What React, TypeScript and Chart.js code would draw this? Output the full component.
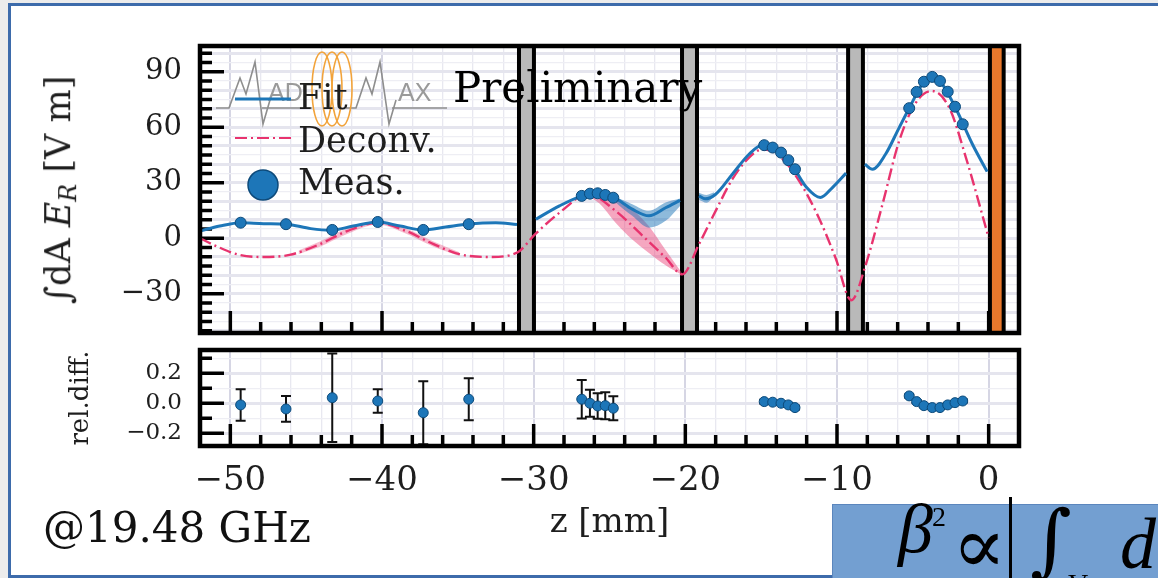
import React, { useEffect, useRef } from "react";
import { Chart, registerables } from "chart.js";

Chart.register(...registerables);

// ---------- axis ranges & tick labels ----------
const X_MIN = -52;
const X_MAX = 2;
const TOP_Y_MIN = -51.2;
const TOP_Y_MAX = 103.9;
const BOT_Y_MIN = -0.285;
const BOT_Y_MAX = 0.355;

const xTickLabels = [-50, -40, -30, -20, -10, 0];
const topYTickLabels = [-30, 0, 30, 60, 90];
const botYTickLabels = [-0.2, 0, 0.2];

// ---------- Fit (blue), segments separated by discs ----------
const fitZ = [-52, -50.7, -49.3, -47.8, -46.3, -44.7, -43.4, -41.9, -40.3, -38.8, -37.3, -35.8, -34.3, -32.5, -31.1, -30.5,
  -29.85, -28.3, -26.8, -25.8, -24.7, -23.5, -22.4, -21.3, -20.35, -19.7,
  -19.1, -18.7, -18.0, -16.9, -15.8, -14.9, -13.7, -12.8, -12.0, -11.1, -10.3, -9.4, -8.8,
  -8.16, -7.66, -6.8, -5.9, -5.24, -4.27, -3.72, -3.21, -2.22, -1.07, -0.1];
const fitE = [3.9, 6.6, 8.4, 7.9, 7.6, 5.2, 4.3, 6.6, 8.8, 6.6, 4.5, 6.1, 7.7, 8.4, 7.4, null,
  10.3, 17.5, 22.9, 24.3, 21.9, 15.7, 12.1, 16.5, 20.5, null,
  22.9, 21.3, 23.8, 34.6, 45.4, 50.4, 46.3, 37.3, 27.4, 22.0, 27.4, 35.2, null,
  40.0, 37.3, 45.4, 59.8, 70.3, 84.6, 87.3, 85.0, 71.1, 50.8, 36.0];

// Fit uncertainty bands
const fitBandZ = [-25.0, -24.6, -23.5, -22.4, -21.3, -20.35];
const fitBandLo = [22.8, 19.5, 12.1, 5.7, 9.4, 17.5];
const fitBandHi = [23.4, 22.3, 18.4, 14.8, 19.3, 21.5];
const fitBand2Z = [-19.1, -18.6, -18.1];
const fitBand2Lo = [20.8, 19.2, 22.8];
const fitBand2Hi = [24.6, 23.4, 24.8];

// ---------- Deconvolved (pink) ----------
const deconvZ = [-52, -50.7, -49.4, -48.0, -46.1, -44.1, -42.3, -40.3, -38.4, -36.6, -34.9, -32.9, -31.1, -29.9, -28.3,
  -26.4, -24.6, -22.8, -21.3, -20.2, -19.1, -18.0, -16.9, -15.8, -14.9, -13.8, -12.5, -11.2, -10.1, -9.05,
  -8.1, -7.0, -5.9, -4.8, -3.75, -2.6, -1.5, 0.0];
const deconvE = [0, -5.1, -9.0, -10.1, -9.0, -3.2, 3.9, 8.4, 3.9, -3.2, -8.6, -10.1, -7.8, 2.2, 13.8,
  23.8, 14.8, 1.2, -10.5, -19.5, -3.2, 14.8, 31.9, 43.6, 48.1, 44.5, 31.0, 11.1, -10.5, -33.5,
  -14.1, 18.4, 52.6, 73.3, 79.6, 70.6, 43.6, 0.3];
const deconvBandZ = [-26.6, -25.7, -24.6, -23.5, -22.4, -21.3, -20.2];
const deconvBandLo = [23.2, 19.0, 8.4, -0.7, -7.9, -14.6, -19.9];
const deconvBandHi = [24.2, 22.6, 20.8, 15.6, 6.5, -6.4, -19.1];
// thin deconvolution band in the first gap
const deconvBand1Z = [-45.5, -44.1, -42.3, -40.3, -38.4, -36.6, -34.9];
const deconvBand1Lo = [-8.6, -4.6, 2.3, 7.4, 2.4, -4.6, -9.6];
const deconvBand1Hi = [-6.6, -1.8, 5.4, 9.2, 5.3, -1.8, -7.6];

// ---------- Measurements ----------
const measZ = [-49.32, -46.33, -43.28, -40.28, -37.28, -34.28, -26.83, -26.29, -25.78, -25.28, -24.75,
  -14.80, -14.24, -13.69, -13.21, -12.77, -5.24, -4.75, -4.27, -3.72, -3.21, -2.70, -2.22, -1.71];
const measE = [8.4, 7.6, 4.5, 8.8, 4.5, 7.6, 22.9, 24.1, 24.3, 23.4, 21.9,
  50.3, 49.0, 46.3, 42.2, 37.3, 70.3, 79.1, 84.6, 87.2, 85.0, 79.2, 71.1, 61.6];
const relDiff = [-0.011, -0.038, 0.037, 0.015, -0.063, 0.027, 0.027, 0.0, -0.018, -0.016, -0.033,
  0.011, 0.007, 0.0, -0.011, -0.029, 0.049, 0.011, -0.016, -0.029, -0.029, -0.011, 0.004, 0.015];
const relErr = [0.105, 0.086, 0.295, 0.078, 0.21, 0.14, 0.128, 0.09, 0.085, 0.09, 0.08,
  0.012, 0.012, 0.012, 0.012, 0.012, 0.01, 0.01, 0.01, 0.01, 0.01, 0.01, 0.01, 0.01];

// ---------- discs (gray) and mirror (orange), in mm ----------
const discZ = [[-31.10, -29.85], [-20.35, -19.10], [-9.40, -8.16]];
const mirrorZ = [-0.05, 1.12];

// ---------- styles ----------
const FONT = "'DejaVu Serif', serif";
const BLUE = "#1d76b8";
const BLUE_EDGE = "#0d4a7a";
const PINK = "#e8336e";
const TEXT = "#1e1e1e";
const SLIDE_BLUE = "#3d6bab";

const pts = (z: number[], v: (number | null)[]) => z.map((x, i) => ({ x, y: v[i] }));
const near = (a: number, b: number) => Math.abs(a - b) < 1e-6;
const minus = (s: string) => s.replace("-", "\u2212");

const isMajorX = (v: number) => near(v / 10, Math.round(v / 10));

const xGrid = {
  drawTicks: false,
  color: (c: any) => (isMajorX(c.tick.value) ? "#d6d6e4" : "#e8e8f0"),
  lineWidth: (c: any) => (isMajorX(c.tick.value) ? 2 : 1.3),
};

const zeroPad = (s: any) => {
  s.paddingTop = 0;
  s.paddingBottom = 0;
  s.paddingLeft = 0;
  s.paddingRight = 0;
};

function tickPlugin(isMajorY: (v: number) => boolean) {
  return {
    id: "inwardTicks",
    beforeDatasetsDraw(chart: any) {
      const { ctx, chartArea: a } = chart;
      const xs = chart.scales.x;
      const ys = chart.scales.y;
      ctx.save();
      ctx.strokeStyle = "#000";
      ctx.lineWidth = 3.5;
      ctx.beginPath();
      xs.ticks.forEach((t: any) => {
        const v = t.value;
        if (v <= X_MIN + 1e-6 || v >= X_MAX - 1e-6) return;
        const px = xs.getPixelForValue(v);
        const len = isMajorX(v) ? 22 : 11;
        ctx.moveTo(px, a.bottom);
        ctx.lineTo(px, a.bottom - len);
      });
      ys.ticks.forEach((t: any) => {
        const py = ys.getPixelForValue(t.value);
        if (py <= a.top + 2 || py >= a.bottom - 1) return;
        const len = isMajorY(t.value) ? 24 : 12;
        ctx.moveTo(a.left, py);
        ctx.lineTo(a.left + len, py);
      });
      ctx.stroke();
      ctx.restore();
    },
  };
}

const framePlugin = {
  id: "frame",
  afterDatasetsDraw(chart: any) {
    const { ctx, chartArea: a } = chart;
    ctx.save();
    ctx.strokeStyle = "#000";
    ctx.lineWidth = 4.5;
    ctx.strokeRect(a.left, a.top, a.right - a.left, a.bottom - a.top);
    ctx.restore();
  },
};

const discPlugin = {
  id: "discs",
  beforeDatasetsDraw(chart: any) {
    const { ctx, chartArea: a } = chart;
    const xs = chart.scales.x;
    const drawOne = (z0: number, z1: number, fill: string) => {
      const p0 = xs.getPixelForValue(z0);
      const p1 = xs.getPixelForValue(z1);
      ctx.fillStyle = "#000";
      ctx.fillRect(p0, a.top, p1 - p0, a.bottom - a.top);
      ctx.fillStyle = fill;
      ctx.fillRect(p0 + 4, a.top, p1 - p0 - 8, a.bottom - a.top);
    };
    ctx.save();
    discZ.forEach(([z0, z1]) => drawOne(z0, z1, "#b9b9b9"));
    drawOne(mirrorZ[0], mirrorZ[1], "#e8782c");
    ctx.restore();
  },
};

const overlayPlugin = {
  id: "overlay",
  afterDraw(chart: any) {
    const { ctx, chartArea: a } = chart;
    const ds = chart.data.datasets;
    const meas = ds[0];
    const fit = ds[1];
    const dec = ds[2];
    ctx.save();
    // --- MADMAX logo (decoration) ---
    ctx.strokeStyle = "#8e8e8e";
    ctx.lineWidth = 1.6;
    ctx.beginPath();
    const lm = [[216, 108], [229, 108], [240, 78], [246, 94], [255, 62], [263, 124], [270, 100]];
    const rm = [[346, 108], [356, 108], [366, 78], [372, 94], [380, 62], [389, 124], [396, 100]];
    [lm, rm].forEach((poly) => {
      poly.forEach(([x, y], i) => (i === 0 ? ctx.moveTo(x, y) : ctx.lineTo(x, y)));
    });
    ctx.moveTo(262, 108);
    ctx.lineTo(312, 108);
    ctx.moveTo(392, 108);
    ctx.lineTo(447, 108);
    ctx.stroke();
    ctx.fillStyle = "#9a9a9a";
    ctx.font = "25px 'Liberation Sans', sans-serif";
    ctx.textBaseline = "alphabetic";
    ctx.fillText("AD", 268, 101);
    ctx.fillText("AX", 398, 101);
    ctx.strokeStyle = "#f2a33a";
    ctx.lineWidth = 1.6;
    [322, 332, 342].forEach((cx) => {
      ctx.beginPath();
      ctx.ellipse(cx, 89, 10, 37, 0, 0, Math.PI * 2);
      ctx.stroke();
    });

    // --- legend ---
    const x0 = a.left + 35;
    const x1 = a.left + 91;
    const tx = a.left + 98;
    ctx.strokeStyle = fit.borderColor;
    ctx.lineWidth = 3;
    ctx.beginPath();
    ctx.moveTo(x0, a.top + 53);
    ctx.lineTo(x1, a.top + 53);
    ctx.stroke();
    ctx.strokeStyle = dec.borderColor;
    ctx.lineWidth = 2.2;
    ctx.setLineDash(dec.borderDash);
    ctx.beginPath();
    ctx.moveTo(x0, a.top + 92);
    ctx.lineTo(x1, a.top + 92);
    ctx.stroke();
    ctx.setLineDash([]);
    ctx.beginPath();
    ctx.arc((x0 + x1) / 2, a.top + 139, 15, 0, Math.PI * 2);
    ctx.fillStyle = meas.pointBackgroundColor;
    ctx.fill();
    ctx.strokeStyle = meas.pointBorderColor;
    ctx.lineWidth = 1.5;
    ctx.stroke();
    ctx.fillStyle = TEXT;
    ctx.font = `35px ${FONT}`;
    ctx.textBaseline = "middle";
    ctx.textAlign = "left";
    ctx.fillText(fit.label, tx, a.top + 54);
    ctx.fillText(dec.label, tx, a.top + 97);
    ctx.fillText(meas.label, tx, a.top + 139);

    // --- Preliminary ---
    ctx.fillStyle = "#000";
    ctx.font = `42px ${FONT}`;
    ctx.textBaseline = "alphabetic";
    ctx.fillText("Preliminary", 453, 102);
    ctx.restore();
  },
};

const errorBarPlugin = {
  id: "errorBars",
  beforeDatasetsDraw(chart: any) {
    const { ctx } = chart;
    const xs = chart.scales.x;
    const ys = chart.scales.y;
    ctx.save();
    ctx.strokeStyle = "#111";
    ctx.lineWidth = 2;
    ctx.beginPath();
    measZ.forEach((z, i) => {
      const px = xs.getPixelForValue(z);
      const t = ys.getPixelForValue(relDiff[i] + relErr[i]);
      const b = ys.getPixelForValue(relDiff[i] - relErr[i]);
      ctx.moveTo(px, t);
      ctx.lineTo(px, b);
      ctx.moveTo(px - 5, t);
      ctx.lineTo(px + 5, t);
      ctx.moveTo(px - 5, b);
      ctx.lineTo(px + 5, b);
    });
    ctx.stroke();
    ctx.restore();
  },
};

function topConfig(): any {
  const band = (z: number[], v: number[], fill: any, color: string, order: number) => ({
    data: pts(z, v),
    borderWidth: 0,
    pointRadius: 0,
    fill,
    backgroundColor: color,
    cubicInterpolationMode: "monotone",
    order,
  });
  return {
    type: "line",
    data: {
      datasets: [
        {
          label: "Meas.",
          data: pts(measZ, measE),
          showLine: false,
          pointRadius: 5.5,
          pointBackgroundColor: BLUE,
          pointBorderColor: BLUE_EDGE,
          pointBorderWidth: 1,
          order: 0,
        },
        {
          label: "Fit",
          data: pts(fitZ, fitE),
          borderColor: BLUE,
          borderWidth: 3,
          pointRadius: 0,
          spanGaps: false,
          cubicInterpolationMode: "monotone",
          fill: false,
          order: 1,
        },
        {
          label: "Deconv.",
          data: pts(deconvZ, deconvE),
          borderColor: PINK,
          borderWidth: 2.4,
          borderDash: [12, 4, 2, 4],
          pointRadius: 0,
          cubicInterpolationMode: "monotone",
          fill: false,
          order: 2,
        },
        band(fitBandZ, fitBandLo, false, "rgba(0,0,0,0)", 3),
        band(fitBandZ, fitBandHi, 3, "rgba(29,118,184,0.5)", 3),
        band(fitBand2Z, fitBand2Lo, false, "rgba(0,0,0,0)", 3),
        band(fitBand2Z, fitBand2Hi, 5, "rgba(29,118,184,0.5)", 3),
        band(deconvBandZ, deconvBandLo, false, "rgba(0,0,0,0)", 4),
        band(deconvBandZ, deconvBandHi, 7, "rgba(232,60,115,0.45)", 4),
        band(deconvBand1Z, deconvBand1Lo, false, "rgba(0,0,0,0)", 4),
        band(deconvBand1Z, deconvBand1Hi, 9, "rgba(232,60,115,0.35)", 4),
      ],
    },
    options: {
      animation: false,
      responsive: false,
      maintainAspectRatio: false,
      events: [],
      layout: { padding: { top: 46, right: 139, left: 0, bottom: 0 } },
      plugins: { legend: { display: false }, tooltip: { enabled: false } },
      scales: {
        x: {
          type: "linear",
          min: X_MIN,
          max: X_MAX,
          border: { display: false },
          grid: xGrid,
          ticks: { display: false, stepSize: 2, autoSkip: false, includeBounds: false },
          afterFit: (s: any) => {
            s.height = 7;
            zeroPad(s);
          },
        },
        y: {
          type: "linear",
          min: TOP_Y_MIN,
          max: TOP_Y_MAX,
          border: { display: false },
          grid: {
            drawTicks: false,
            color: (c: any) => (near(c.tick.value % 10, 0) ? "#e5e5ee" : "#eeeef4"),
            lineWidth: (c: any) => (near(c.tick.value % 10, 0) ? 3 : 1.3),
          },
          ticks: {
            stepSize: 5,
            autoSkip: false,
            includeBounds: false,
            padding: 18,
            color: TEXT,
            font: { family: FONT, size: 29 },
            callback: (v: any) => {
              const m = topYTickLabels.find((t) => near(t, Number(v)));
              return m === undefined ? "" : minus(String(m));
            },
          },
          afterFit: (s: any) => {
            s.width = 200;
            zeroPad(s);
          },
        },
      },
    },
    plugins: [tickPlugin((v) => near(v % 30, 0)), discPlugin, framePlugin, overlayPlugin],
  };
}

function botConfig(): any {
  const isMajorB = (v: number) => Math.abs(Math.round(v * 10)) % 2 === 0;
  return {
    type: "line",
    data: {
      datasets: [
        {
          label: "rel. diff.",
          data: pts(measZ, relDiff),
          showLine: false,
          pointRadius: 5,
          pointBackgroundColor: BLUE,
          pointBorderColor: BLUE_EDGE,
          pointBorderWidth: 1,
        },
      ],
    },
    options: {
      animation: false,
      responsive: false,
      maintainAspectRatio: false,
      events: [],
      layout: { padding: { top: 10, right: 139, left: 0, bottom: 0 } },
      plugins: { legend: { display: false }, tooltip: { enabled: false } },
      scales: {
        x: {
          type: "linear",
          min: X_MIN,
          max: X_MAX,
          border: { display: false },
          grid: xGrid,
          ticks: {
            stepSize: 2,
            autoSkip: false,
            includeBounds: false,
            maxRotation: 0,
            minRotation: 0,
            padding: 14.6,
            color: TEXT,
            font: { family: FONT, size: 34 },
            callback: (v: any) => {
              const m = xTickLabels.find((t) => near(t, Number(v)));
              return m === undefined ? "" : minus(String(m));
            },
          },
          title: {
            display: true,
            text: "z [mm]",
            color: TEXT,
            font: { family: FONT, size: 34 },
            padding: { top: 0, bottom: 16.6 },
          },
          afterFit: (s: any) => {
            s.height = 114;
            zeroPad(s);
          },
        },
        y: {
          type: "linear",
          min: BOT_Y_MIN,
          max: BOT_Y_MAX,
          border: { display: false },
          grid: {
            drawTicks: false,
            color: (c: any) => (isMajorB(c.tick.value) ? "#e5e5ee" : "#eeeef4"),
            lineWidth: (c: any) => (isMajorB(c.tick.value) ? 3 : 1.3),
          },
          ticks: {
            stepSize: 0.1,
            autoSkip: false,
            includeBounds: false,
            padding: 18,
            color: TEXT,
            font: { family: FONT, size: 23 },
            callback: (v: any) => {
              const m = botYTickLabels.find((t) => near(t, Number(v)));
              return m === undefined ? "" : minus(m.toFixed(1));
            },
          },
          title: {
            display: true,
            text: "rel.diff.",
            color: TEXT,
            font: { family: FONT, size: 26 },
            padding: { top: 66, bottom: 0 },
          },
          afterFit: (s: any) => {
            s.width = 200;
            zeroPad(s);
          },
        },
      },
    },
    plugins: [tickPlugin(isMajorB), errorBarPlugin, framePlugin],
  };
}

export default function App() {
  const topRef = useRef<HTMLCanvasElement>(null);
  const botRef = useRef<HTMLCanvasElement>(null);

  useEffect(() => {
    const top = new Chart(topRef.current as HTMLCanvasElement, topConfig());
    const bot = new Chart(botRef.current as HTMLCanvasElement, botConfig());
    return () => {
      top.destroy();
      bot.destroy();
    };
  }, []);

  const abs: React.CSSProperties = { position: "absolute", whiteSpace: "nowrap", lineHeight: 1 };

  return (
    <div
      style={{
        position: "fixed",
        left: 0,
        top: 0,
        width: 1158,
        height: 578,
        overflow: "hidden",
        background: "#ececec",
      }}
    >
      <div
        style={{
          position: "absolute",
          left: 8,
          top: 3,
          width: 1200,
          height: 575,
          boxSizing: "border-box",
          borderTop: `3px solid ${SLIDE_BLUE}`,
          borderLeft: `3px solid ${SLIDE_BLUE}`,
          borderBottom: `3px solid ${SLIDE_BLUE}`,
          background: "#fff",
        }}
      />
      <canvas
        ref={topRef}
        width={1158}
        height={340}
        style={{ position: "absolute", left: 0, top: 0, width: 1158, height: 340 }}
      />
      <canvas
        ref={botRef}
        width={1158}
        height={220}
        style={{ position: "absolute", left: 0, top: 340, width: 1158, height: 220 }}
      />
      <div
        style={{
          ...abs,
          left: 61,
          top: 190,
          transform: "translate(-50%, -50%) rotate(-90deg)",
          fontFamily: FONT,
          fontSize: 35,
          color: TEXT,
        }}
      >
        ∫dA <i>E</i>
        <sub style={{ fontSize: "0.68em", verticalAlign: "-0.25em" }}>
          <i>R</i>
        </sub>{" "}
        [V m]
      </div>
      <div style={{ ...abs, left: 43, top: 507, fontFamily: FONT, fontSize: 42, color: "#111" }}>
        @19.48 GHz
      </div>
      <div
        style={{
          position: "absolute",
          left: 832,
          top: 504,
          width: 340,
          height: 80,
          background: "#739fd1",
          borderLeft: "1px solid #5b86bd",
          borderTop: "1px solid #5b86bd",
        }}
      />
      <div style={{ ...abs, left: 898, top: 494, fontFamily: "'Liberation Serif', serif", fontStyle: "italic", fontSize: 70, color: "#000" }}>
        β
      </div>
      <div style={{ ...abs, left: 932, top: 503, fontFamily: "'Liberation Serif', serif", fontSize: 28, color: "#000" }}>
        2
      </div>
      <div style={{ ...abs, left: 952, top: 506, fontFamily: FONT, fontSize: 80, color: "#000" }}>∝</div>
      <div style={{ position: "absolute", left: 1009, top: 497, width: 3, height: 90, background: "#000" }} />
      <div style={{ ...abs, left: 1030, top: 500, fontFamily: FONT, fontSize: 80, color: "#000" }}>∫</div>
      <div style={{ ...abs, left: 1068, top: 570, fontFamily: "'Liberation Serif', serif", fontSize: 28, color: "#000" }}>
        V
      </div>
      <div style={{ ...abs, left: 1120, top: 508, fontFamily: "'Liberation Serif', serif", fontStyle: "italic", fontSize: 72, color: "#000" }}>
        d
      </div>
    </div>
  );
}
